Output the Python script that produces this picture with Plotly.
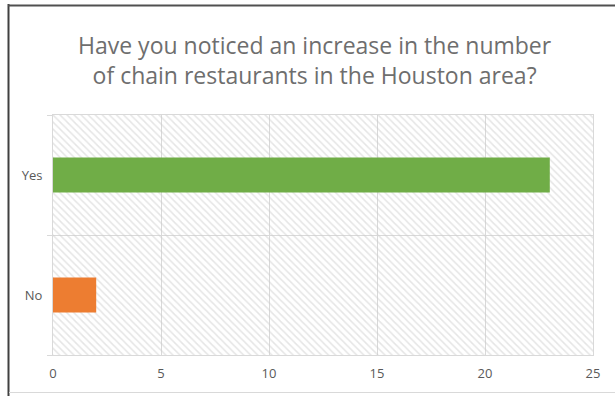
import plotly.graph_objects as go

# Survey responses
categories = ["No", "Yes"]
counts = [2, 23]
bar_colors = ["#ED7D31", "#70AD47"]
x_ticks = [0, 5, 10, 15, 20, 25]
x_max = 25

title_text = ("Have you noticed an increase in the number<br>"
              "of chain restaurants in the Houston area?")

W, H = 615, 396
ml, mr, mt, mb = 53, 22, 115, 41
pw, ph = W - ml - mr, H - mt - mb

def px_x(x):
    return (x - ml) / pw

def px_y(y):
    return 1 - (y - mt) / ph

grid = "#d9d9d9"
label_color = "#595959"
font_family = "Open Sans, Liberation Sans, Arial, sans-serif"

fig = go.Figure()

# Hatched plot-area fill: one full-width band per category
fig.add_trace(go.Bar(
    y=categories, x=[x_max] * len(categories), orientation="h", width=1,
    marker=dict(color="rgba(0,0,0,0)", line=dict(width=0),
                pattern=dict(shape="\\", fgcolor="#cccccc", size=5, solidity=0.3)),
    hoverinfo="skip", showlegend=False,
))

fig.add_trace(go.Bar(
    y=categories, x=counts, orientation="h", width=0.29,
    marker=dict(color=bar_colors, line=dict(width=0)),
    showlegend=False,
))

fig.update_layout(
    width=W, height=H,
    margin=dict(l=ml, r=mr, t=mt, b=mb, autoexpand=False),
    paper_bgcolor="white", plot_bgcolor="white",
    barmode="overlay",
    font=dict(family=font_family, color=label_color, size=12),
    xaxis=dict(range=[0, x_max], tickvals=x_ticks, showgrid=True, gridcolor=grid,
               gridwidth=1, zeroline=False, showline=True, linecolor=grid, mirror=True,
               ticks="outside", ticklen=0, ticklabelstandoff=6,
               tickfont=dict(size=13, color=label_color)),
    yaxis=dict(type="category", categoryorder="array", categoryarray=categories,
               tickson="boundaries", showgrid=True, gridcolor=grid, gridwidth=1,
               showline=True, linecolor=grid, mirror=True,
               ticks="outside", ticklen=5, tickcolor=grid, ticklabelstandoff=7,
               tickfont=dict(size=13, color=label_color)),
    annotations=[dict(
        text=title_text, xref="paper", yref="paper",
        x=px_x(315), y=px_y(60), xanchor="center", yanchor="middle",
        showarrow=False, align="center",
        font=dict(family=font_family, size=23, color="#6e6e6e"),
    )],
    shapes=[
        dict(type="line", xref="paper", yref="paper", x0=px_x(8.5), x1=px_x(8.5),
             y0=px_y(4), y1=px_y(397), line=dict(color="#404040", width=2)),
        dict(type="line", xref="paper", yref="paper", x0=px_x(8), x1=px_x(616),
             y0=px_y(5.5), y1=px_y(5.5), line=dict(color="#505050", width=2)),
        dict(type="line", xref="paper", yref="paper", x0=px_x(9), x1=px_x(616),
             y0=px_y(392.5), y1=px_y(392.5), line=dict(color="#d9d9d9", width=1)),
    ],
)

fig.write_html("out.html")
